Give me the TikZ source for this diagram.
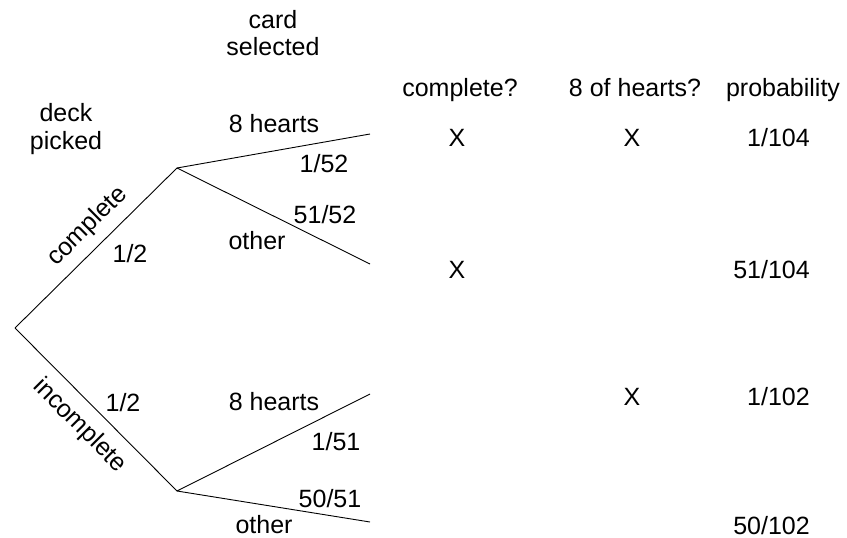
\documentclass[tikz,border=0pt]{standalone}
\usepackage{fontspec}
\setmainfont{Liberation Sans}
\usepackage{tikz}
\usetikzlibrary{positioning}

\begin{document}
\begin{tikzpicture}[x=1pt, y=-1pt, font=\fontsize{25}{28}\selectfont,
  branch/.style={line width=0.9pt},
  lbl/.style={anchor=base, inner sep=0pt, align=center},
  prob/.style={anchor=base east, inner sep=0pt}]
\useasboundingbox (0,0) rectangle (847,538);
\coordinate (root) at (15,328);
\coordinate (cmp) at (177,168);
\coordinate (inc) at (177,491);
\coordinate (cmpheart) at (370,134);
\coordinate (cmpother) at (370,264);
\coordinate (incheart) at (370,394);
\coordinate (incother) at (370,522);
\draw[branch] (root) -- node[pos=0.54, sloped, above=9pt, inner sep=0pt] (lcmp) {complete} (cmp);
\draw[branch] (root) -- node[pos=0.5, sloped, below=11pt, inner sep=0pt] (linc) {incomplete} (inc);
\draw[branch] (cmp) -- (cmpheart);
\draw[branch] (cmp) -- (cmpother);
\draw[branch] (inc) -- (incheart);
\draw[branch] (inc) -- (incother);
\node[lbl] (deck) at (66,149) {deck\\picked};
\node[lbl] (card) at (273,56) {card\\selected};
\node[lbl] (halfc) at (130,262) {1/2};
\node[lbl] (halfi) at (123,411) {1/2};
\node[lbl] (hc) at (274,132) {8 hearts};
\node[lbl] (pc1) at (324,172) {1/52};
\node[lbl] (pc2) at (325,223) {51/52};
\node[lbl] (oc) at (257,249) {other};
\node[lbl] (hi) at (274,410) {8 hearts};
\node[lbl] (pi1) at (336,450) {1/51};
\node[lbl] (pi2) at (330,507) {50/51};
\node[lbl] (oi) at (264,533) {other};
\node[lbl] (comphdr) at (460,96) {complete?};
\node[lbl] (hearthdr) at (635,96) {8 of hearts?};
\node[lbl] (probhdr) at (783,96) {probability};
\node[lbl] (xc1) at (457,146) {X};
\node[lbl] (xh1) at (632,146) {X};
\node[prob] (pr1) at (810,146) {1/104};
\node[lbl] (xc2) at (457,278) {X};
\node[prob] (pr2) at (810,278) {51/104};
\node[lbl] (xh3) at (632,405) {X};
\node[prob] (pr3) at (810,405) {1/102};
\node[prob] (pr4) at (810,534) {50/102};
\end{tikzpicture}
\end{document}
